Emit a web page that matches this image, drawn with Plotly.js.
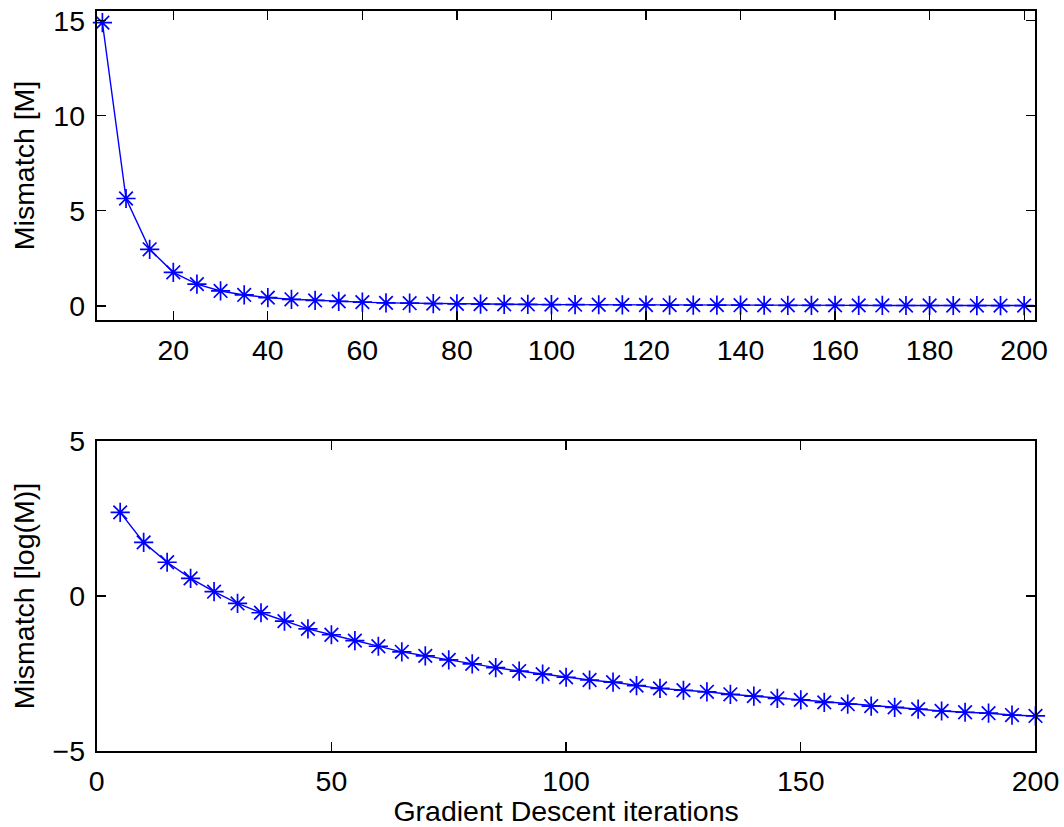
<!DOCTYPE html>
<html>
<head>
<meta charset="utf-8">
<script src="https://cdn.plot.ly/plotly-3.0.1.min.js"></script>
<style>html,body{margin:0;padding:0;background:#fff;}#chart{width:1064px;height:827px;}</style>
</head>
<body>
<div id="chart"></div>
<script>
const iterations = [5,10,15,20,25,30,35,40,45,50,55,60,65,70,75,80,85,90,95,100,105,110,115,120,125,130,135,140,145,150,155,160,165,170,175,180,185,190,195,200];
const mismatch = [14.9,5.65,2.98,1.77,1.15,0.79,0.58,0.44,0.35,0.29,0.24,0.20,0.165,0.145,0.127,0.112,0.099,0.089,0.080,0.073,0.067,0.063,0.056,0.051,0.048,0.045,0.042,0.040,0.037,0.035,0.033,0.031,0.029,0.028,0.026,0.025,0.0235,0.0228,0.0215,0.021];
const logMismatch = [2.70,1.73,1.09,0.57,0.14,-0.24,-0.54,-0.81,-1.06,-1.25,-1.44,-1.62,-1.80,-1.93,-2.06,-2.19,-2.31,-2.42,-2.52,-2.62,-2.71,-2.78,-2.89,-2.98,-3.04,-3.09,-3.17,-3.23,-3.30,-3.35,-3.43,-3.49,-3.55,-3.59,-3.65,-3.71,-3.75,-3.78,-3.84,-3.87];
const topYLabel = 'Mismatch [M]';
const bottomYLabel = 'Mismatch [log(M)]';
const xLabel = 'Gradient Descent iterations';

const FONT = {family: 'Liberation Sans, Arial, Helvetica, sans-serif', size: 28.5, color: '#000'};
const line = {color: '#0000ff', width: 1.4};
const marker = {symbol: 'asterisk-open', size: 16, color: '#0000ff', line: {color: '#0000ff', width: 1.7}};

const traces = [
  {x: iterations, y: mismatch, xaxis: 'x', yaxis: 'y', mode: 'lines+markers', line: line, marker: marker, cliponaxis: false},
  {x: iterations, y: logMismatch, xaxis: 'x2', yaxis: 'y2', mode: 'lines+markers', line: line, marker: marker, cliponaxis: false}
];

const axBase = {
  showgrid: false, zeroline: false, showline: true, linecolor: '#000', linewidth: 2,
  mirror: 'ticks', ticks: 'inside', ticklen: 9, tickwidth: 1.2, tickcolor: '#000',
  tickfont: FONT, automargin: false
};

const layout = {
  width: 1064, height: 827,
  margin: {l: 0, r: 0, t: 0, b: 0},
  paper_bgcolor: '#fff', plot_bgcolor: '#fff',
  showlegend: false,
  font: FONT,
  xaxis: Object.assign({}, axBase, {domain: [0.0909, 0.9732], range: [3.8, 202.4], tickvals: [20,40,60,80,100,120,140,160,180,200], anchor: 'y', ticklabelstandoff: 4}),
  yaxis: Object.assign({}, axBase, {domain: [0.6131, 0.9867], range: [-0.736, 15.51], tickvals: [0,5,10,15], anchor: 'x', ticklabelstandoff: 4,
    title: {text: topYLabel, font: FONT, standoff: 10}}),
  xaxis2: Object.assign({}, axBase, {domain: [0.0909, 0.9732], range: [0, 200], tickvals: [0,50,100,150,200], anchor: 'y2', ticklabelstandoff: 4,
    title: {text: xLabel, font: FONT, standoff: 0}}),
  yaxis2: Object.assign({}, axBase, {domain: [0.0919, 0.4667], range: [-5, 5], tickvals: [-5,0,5], anchor: 'x2', ticklabelstandoff: 4,
    title: {text: bottomYLabel, font: FONT, standoff: 10}})
};

Plotly.newPlot('chart', traces, layout, {staticPlot: true, displayModeBar: false});
</script>
</body>
</html>
